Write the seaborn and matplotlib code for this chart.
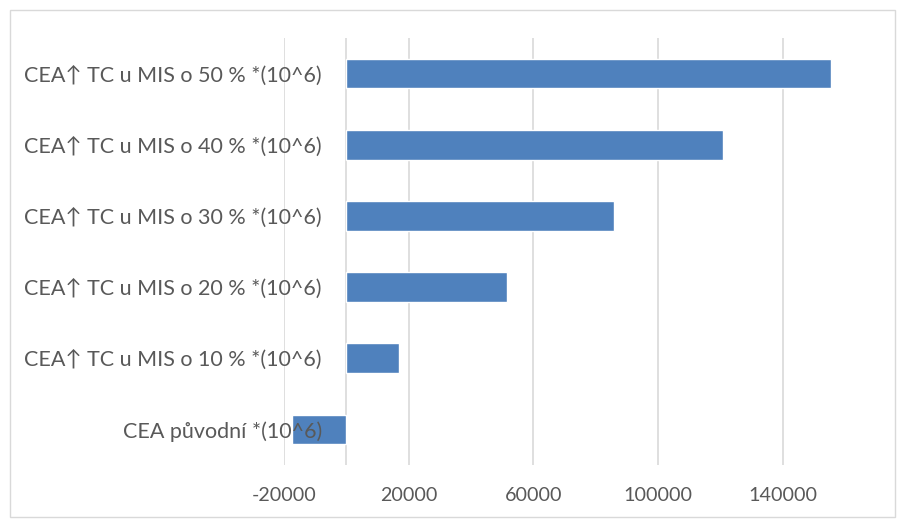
import matplotlib
matplotlib.use("Agg")
import matplotlib.pyplot as plt
import matplotlib.transforms as mtransforms
from matplotlib.patches import Rectangle
import seaborn as sns
import pandas as pd

categories = [
    "CEA\u2191 TC u MIS o 50 % *(10^6)",
    "CEA\u2191 TC u MIS o 40 % *(10^6)",
    "CEA\u2191 TC u MIS o 30 % *(10^6)",
    "CEA\u2191 TC u MIS o 20 % *(10^6)",
    "CEA\u2191 TC u MIS o 10 % *(10^6)",
    "CEA p\u016fvodn\u00ed *(10^6)",
]
values = [155400, 120700, 86000, 51700, 17000, -17400]
xticks = [-20000, 20000, 60000, 100000, 140000]

sns.set_theme(style="white")
plt.rcParams['font.family'] = ['Lato', 'DejaVu Sans']

df = pd.DataFrame({"cat": categories, "val": values})

fig = plt.figure(figsize=(8.98, 5.2), dpi=100)
ax = fig.add_axes([284/898, 1 - 465/520, (845 - 284)/898, (465 - 38)/520])

sns.barplot(data=df, x="val", y="cat", orient="h", color="#4F81BD",
            width=0.415, saturation=1, ax=ax, zorder=2)

ax.set_xlim(-20000, 160000)
ax.set_ylim(5.5, -0.5)
ax.set_xticks(xticks)
ax.set_xticklabels([str(t) for t in xticks])
for t in xticks + [0]:
    ax.axvline(t, color="#D9D9D9", lw=1.2, zorder=1)
for s in ax.spines.values():
    s.set_visible(False)
ax.grid(False)
ax.set_xlabel("")
ax.set_ylabel("")
ax.tick_params(axis="x", length=0, labelsize=14.2, colors="#595959", pad=16)
ax.tick_params(axis="y", length=0, labelsize=15.5, colors="#595959", pad=0)
ax.yaxis.set_zorder(5)

offset = mtransforms.ScaledTranslation(38/100, 0, fig.dpi_scale_trans)
for lab in ax.get_yticklabels():
    lab.set_transform(lab.get_transform() + offset)

fig.patches.append(Rectangle((10/898, 1 - 517/520), (895 - 10)/898, (517 - 10)/520,
                             transform=fig.transFigure, fill=False,
                             edgecolor="#D9D9D9", lw=1))

fig.savefig("out.png", dpi=100)
